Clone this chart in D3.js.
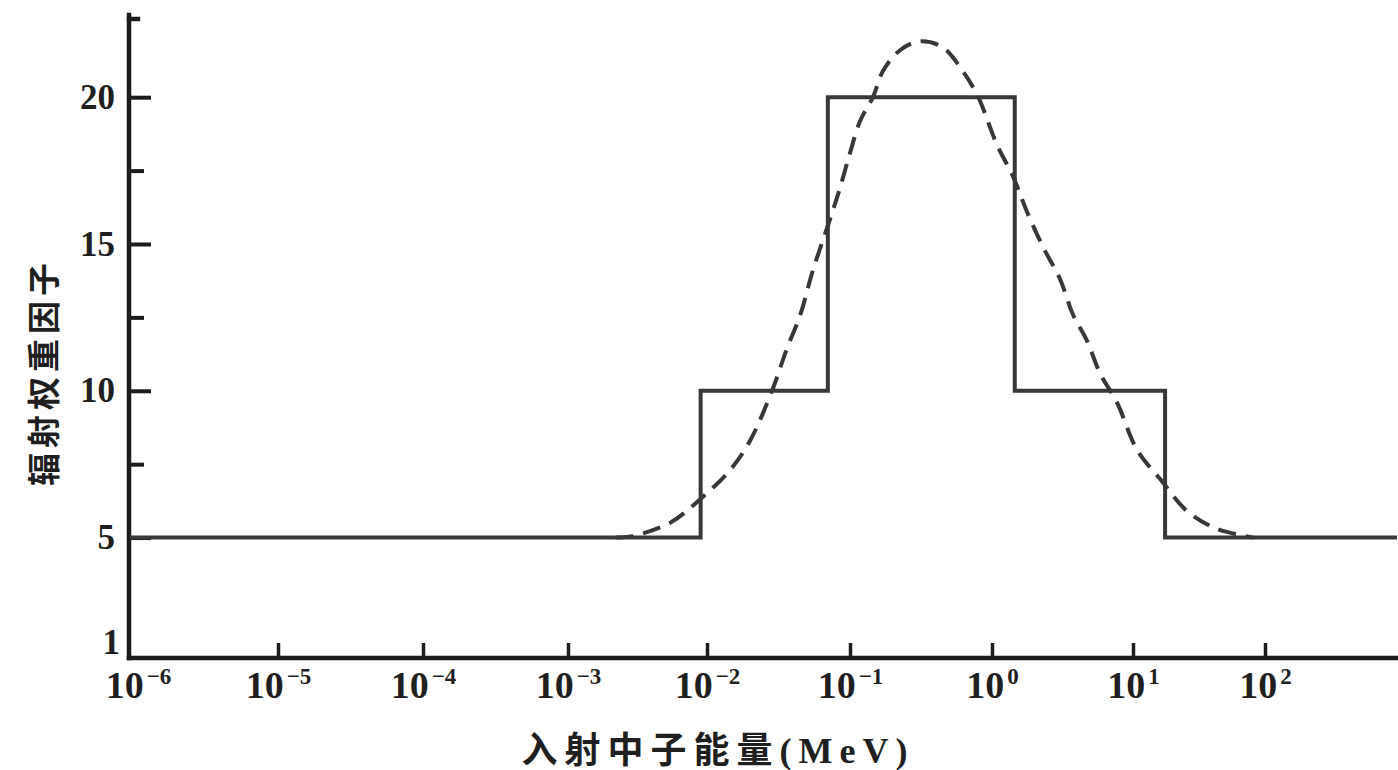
<!DOCTYPE html>
<html>
<head>
<meta charset="utf-8">
<script src="https://cdn.jsdelivr.net/npm/d3@7"></script>
<style>
  body { margin: 0; background: #fff; }
  svg { display: block; background: #fff; }
  .axis text { fill: #1f1f1f; font-family: 'Liberation Serif', serif; font-weight: bold; }
</style>
</head>
<body>
<svg id="chart" width="1398" height="770"></svg>
<script>
// y axis: radiation weighting factor
const yTicks = [1, 5, 10, 15, 20]
const yMinorTicks = [7.5, 12.5, 17.5]
// x axis: neutron energy (MeV), log scale
const xTicks = [1e-6, 1e-5, 1e-4, 1e-3, 1e-2, 1e-1, 1e0, 1e1, 1e2]
const xTickExponents = ['−6', '−5', '−4', '−3', '−2', '−1', '0', '1', '2']

// step function (solid)
const stepEnergy = [1e-6, 0.009, 0.07, 1.45, 17.5, 1000]
const stepFactor = [5, 10, 20, 10, 5, 5]

// continuous curve (dashed)
const curveEnergy = [
  0.0022, 0.0029, 0.0054, 0.0089, 0.0145, 0.020, 0.0285, 0.036, 0.045, 0.055, 0.072,
  0.085, 0.10, 0.118, 0.145, 0.171, 0.225, 0.31, 0.45, 0.62, 0.80,
  1.08, 1.41, 1.77, 2.3, 3.04, 3.75, 4.72, 5.83, 7.7, 10.7,
  16.0, 25.7, 43, 81
]
const curveFactor = [
  5.0, 5.05, 5.5, 6.3, 7.3, 8.3, 10.0, 11.4, 12.6, 14.1, 15.8,
  16.9, 18.1, 19.2, 20.0, 20.9, 21.6, 21.9, 21.7, 20.9, 20.0,
  18.4, 17.3, 16.1, 14.9, 13.8, 12.6, 11.7, 10.6, 9.6, 8.0,
  7.0, 5.9, 5.3, 5.0
]

const yTitle = '辐射权重因子'
const xTitle = '入射中子能量(MeV)'

const c = {
  width: 1398,
  height: 770,
  axisX: 129,
  axisY: 658,
  axisTop: 15,
  // decade positions on the printed (slightly uneven) axis
  decadePx: [130, 278, 423, 568, 707, 850, 992, 1133, 1265, 1397],
  ink: '#1c1c1c',
  line: '#383838',
}

const svg = d3.select('#chart')

const x = d3.scaleLog([...xTicks, 1e3], c.decadePx)
const y = d3.scaleLinear([1, 22.8], [655, 15])

// Axes lines
svg.append('g')
  .attr('stroke', c.ink)
  .attr('stroke-width', 4.5)
  .attr('stroke-linecap', 'square')
  .selectAll('line')
  .data([
    [c.axisX, c.axisTop, c.axisX, c.axisY],
    [c.axisX, c.axisY, c.width, c.axisY],
    [c.axisX, c.axisTop + 4, c.axisX + 9, c.axisTop + 4],
  ])
  .join('line')
  .attr('x1', (d) => d[0])
  .attr('y1', (d) => d[1])
  .attr('x2', (d) => d[2])
  .attr('y2', (d) => d[3])

// Y Axis
const yAxisEl = svg.append('g')
  .classed('axis', true)
  .attr('transform', `translate(${ c.axisX },0)`)
  .call(d3.axisLeft(y).tickValues(yTicks).tickSizeInner(-22).tickSizeOuter(0).tickPadding(14).tickFormat(d3.format('d')))

yAxisEl.select('.domain').remove()
yAxisEl.selectAll('.tick line').attr('stroke', c.ink).attr('stroke-width', 4)
yAxisEl.selectAll('.tick text').style('font-size', '35px')
yAxisEl.selectAll('.tick').filter((d) => d === 1).each(function () {
  d3.select(this).select('line').remove()
  d3.select(this).select('text').attr('dy', '-0.05em').attr('x', -9)
})

const yMinorEl = svg.append('g')
  .attr('transform', `translate(${ c.axisX },0)`)
  .call(d3.axisLeft(y).tickValues(yMinorTicks).tickSizeInner(-15).tickSizeOuter(0).tickFormat(''))
yMinorEl.select('.domain').remove()
yMinorEl.selectAll('.tick line').attr('stroke', c.ink).attr('stroke-width', 4)

// X Axis
const xAxisEl = svg.append('g')
  .classed('axis', true)
  .attr('transform', `translate(0,${ c.axisY })`)
  .call(d3.axisBottom(x).tickValues(xTicks).tickSizeInner(-15).tickSizeOuter(0).tickFormat(''))

xAxisEl.select('.domain').remove()
xAxisEl.selectAll('.tick line').attr('stroke', c.ink).attr('stroke-width', 3.5)
xAxisEl.selectAll('.tick').filter((d, i) => i === 0).select('line').remove()

xAxisEl.selectAll('.tick text')
  .attr('y', 40)
  .attr('dy', 0)
  .attr('x', (d, i) => (i === 0 ? 8 : 0))
  .attr('text-anchor', 'middle')
  .each(function (d, i) {
    const t = d3.select(this)
    t.append('tspan').style('font-size', '38px').text('10')
    t.append('tspan').attr('dx', 3).attr('dy', -14).style('font-size', '23px').text(xTickExponents[i])
  })

// Step function
const stepLine = d3.line()
  .x((d) => x(d[0]))
  .y((d) => y(d[1]))
  .curve(d3.curveStepAfter)

svg.append('path')
  .datum(stepEnergy.map((e, i) => [e, stepFactor[i]]))
  .attr('d', stepLine)
  .attr('fill', 'none')
  .attr('stroke', c.line)
  .attr('stroke-width', 4)

// Continuous curve
const smoothLine = d3.line()
  .x((d) => x(d[0]))
  .y((d) => y(d[1]))
  .curve(d3.curveCatmullRom.alpha(0.5))

svg.append('path')
  .datum(curveEnergy.map((e, i) => [e, curveFactor[i]]))
  .attr('d', smoothLine)
  .attr('fill', 'none')
  .attr('stroke', c.line)
  .attr('stroke-width', 4)
  .attr('stroke-dasharray', '18,10')

// Titles
svg.append('text')
  .attr('transform', 'translate(56,372) rotate(-90)')
  .attr('text-anchor', 'middle')
  .attr('fill', '#1f1f1f')
  .style('font-family', "'Noto Sans CJK SC', sans-serif")
  .style('font-weight', 700)
  .style('font-size', '33px')
  .style('letter-spacing', '5px')
  .text(yTitle)

svg.append('text')
  .attr('x', 718)
  .attr('y', 763)
  .attr('text-anchor', 'middle')
  .attr('fill', '#1f1f1f')
  .style('font-family', "'Liberation Serif', 'Noto Sans CJK SC', serif")
  .style('font-weight', 700)
  .style('font-size', '36px')
  .style('letter-spacing', '7px')
  .text(xTitle)
</script>
</body>
</html>
